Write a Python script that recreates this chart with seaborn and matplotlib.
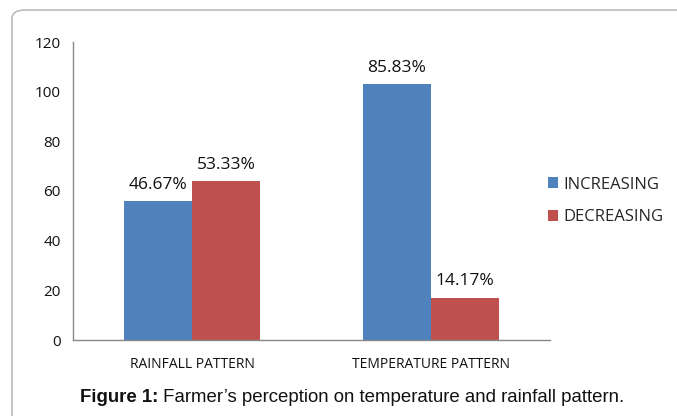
import matplotlib
matplotlib.use("Agg")
import matplotlib.pyplot as plt
import seaborn as sns
import pandas as pd
from matplotlib.patches import FancyBboxPatch, Patch

categories = ["RAINFALL PATTERN", "TEMPERATURE PATTERN"]
series = ["INCREASING", "DECREASING"]
increasing = [56, 103]
decreasing = [64, 17]
inc_labels = ["46.67%", "85.83%"]
dec_labels = ["53.33%", "14.17%"]
yticks = [0, 20, 40, 60, 80, 100, 120]
colors = ["#4F81BD", "#C0504D"]

df = pd.DataFrame({
    "category": categories * 2,
    "series": [series[0]] * 2 + [series[1]] * 2,
    "value": increasing + decreasing,
    "label": inc_labels + dec_labels,
})

sns.set_style("white")
plt.rcParams["font.family"] = ["Open Sans", "DejaVu Sans"]

fig = plt.figure(figsize=(6.77, 4.16), dpi=100)
# rounded border of the figure panel
border = FancyBboxPatch((12 / 677, 0.0 - 0.05), 1.0, 1 - 10 / 416 + 0.05,
                        boxstyle="round,pad=0,rounding_size=0.02",
                        transform=fig.transFigure, facecolor="white",
                        edgecolor="#BBBBBB", linewidth=1.2, zorder=-10)
fig.patches.append(border)

ax = fig.add_axes([73 / 677, 1 - 340 / 416, (550 - 73) / 677, (340 - 42) / 416])
ax.set_facecolor("none")
ax.set_zorder(1)
sns.barplot(data=df, x="category", y="value", hue="series", order=categories,
            hue_order=series, palette=colors, width=0.57, saturation=1,
            edgecolor="none", linewidth=0, ax=ax, legend=False)

ax.set_xlim(-0.5, 1.5)
ax.set_ylim(0, 120)
ax.set_yticks(yticks)
ax.set_yticklabels([str(t) for t in yticks], fontsize=11, color="#111111")
ax.set_xticks([0, 1])
ax.set_xticklabels(categories, fontsize=10, color="#111111")
ax.set_xlabel("")
ax.set_ylabel("")
ax.tick_params(axis="x", length=0, pad=12)
ax.tick_params(axis="y", length=5, width=1, color="#888888", direction="out", pad=4)
ax.set_xticks([-0.5, 0.5, 1.5], minor=True)
ax.tick_params(axis="x", which="minor", length=5, width=1, color="#888888", direction="out")
for s in ["top", "right"]:
    ax.spines[s].set_visible(False)
for s in ["left", "bottom"]:
    ax.spines[s].set_color("#888888")
    ax.spines[s].set_linewidth(1)

for container, labs in zip(ax.containers, [inc_labels, dec_labels]):
    ax.bar_label(container, labels=labs, padding=6, fontsize=12.5, color="#111111")

handles = [Patch(facecolor=c, edgecolor="none") for c in colors]
fig.legend(handles, series, loc="center left", bbox_to_anchor=(533 / 677, 1 - 201 / 416),
           frameon=False, fontsize=12, handlelength=0.6, handleheight=0.6,
           handletextpad=0.35, labelspacing=1.0)

# caption: bold "Figure 1:" + regular text, centred as a whole
cap_y = 1 - 397 / 416
t1 = fig.text(0, cap_y, "Figure 1:", ha="left", va="center", fontsize=13.4,
              family="Liberation Sans", weight="bold", color="#111111")
t2 = fig.text(0, cap_y, " Farmer’s perception on temperature and rainfall pattern.",
              ha="left", va="center", fontsize=13.4, family="Liberation Sans", color="#111111")
fig.canvas.draw()
r = fig.canvas.get_renderer()
w1 = t1.get_window_extent(r).width
w2 = t2.get_window_extent(r).width
total = w1 + w2
x0 = 352 - total / 2
t1.set_x(x0 / 677)
t2.set_x((x0 + w1) / 677)

fig.savefig("out.png", dpi=100)
